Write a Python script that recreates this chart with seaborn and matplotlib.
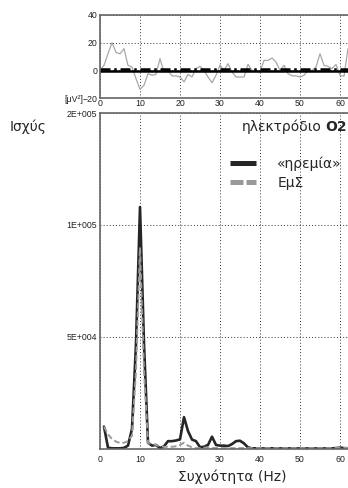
import numpy as np
import pandas as pd
import matplotlib
matplotlib.use("Agg")
import matplotlib.pyplot as plt
import seaborn as sns

# ======================================
# DATA
# ======================================
# top panel: difference curve, 0..62 Hz
diff_freq = list(range(0, 63))
diff_vals = [0, 3.6, 12, 20, 13, 12, 15.7, 3.6, 2.4, -6,
             -13.7, -10.8, -2.4, -3.6, -2.9, 8.4, -1.2, 0, -4, -4,
             -4.8, -8.4, -3, -4.8, 1.2, 2.9, 0, -4.8, -9, -3.6,
             3.8, 0, 4.8, -1.2, -4.8, -4.8, -4.8, 4.3, 0, -0.5,
             -1.2, 7.2, 7.2, 8.9, 6, 0, 3.6, -2.4, -4, -4,
             -4.8, -3.6, 0, 0, 2.4, 12, 3.6, 2.9, 1.2, 4.3,
             -3.6, -4.3, 15.7]
thr_solid = -0.7
thr_dashdot = 1.3
top_yticks = [-20, 0, 20, 40]

# bottom panel: power spectra, 1..62 Hz
freq = list(range(1, 63))
rest = [10000, 600, 300, 300, 300, 500, 1500, 9000, 47000, 108000,
        47000, 2800, 1500, 1800, 400, 1200, 3500, 3500, 3800, 4300,
        14200, 8000, 4200, 3500, 800, 1000, 1800, 5500, 1800, 1500,
        1500, 1300, 2200, 3500, 3700, 2500, 700, 300, 300, 250,
        250, 250, 300, 300, 250, 250, 250, 250, 250, 250,
        250, 250, 250, 250, 250, 250, 250, 300, 400, 600,
        400, 300]
ems = [10000, 6500, 4500, 3300, 2700, 2800, 3500, 6000, 35000, 90000,
       35000, 2700, 2200, 1800, 1200, 1000, 1000, 1000, 1200, 1800,
       2800, 1500, 800, 400, 400, 600, 700, 500, 400, 400,
       400, 400, 400, 400, 400, 400, 400, 400, 400, 400,
       400, 400, 400, 400, 400, 400, 400, 400, 400, 400,
       400, 400, 400, 400, 400, 400, 400, 400, 500, 600,
       500, 400]
bot_yticks = [0, 50000, 100000, 150000]
xticks = [0, 10, 20, 30, 40, 50, 60]
legend_labels = ["«ηρεμία»", "ΕμΣ"]

# ======================================
# STYLE
# ======================================
sns.set_style("white")
plt.rcParams["font.family"] = ["DejaVu Sans"]

W, H = 348, 488
fig = plt.figure(figsize=(W / 100, H / 100), dpi=100)


def box(l, t, r, b):
    return [l / W, 1 - b / H, (r - l) / W, (b - t) / H]


ax_top = fig.add_axes(box(100, 15, 350, 98))
ax_bot = fig.add_axes(box(100, 113, 350, 449))

grid_kw = dict(color="#333333", lw=0.7, linestyle=(0, (1, 2.2)))


def style_axis(ax):
    for s in ax.spines.values():
        s.set_color("#666666")
        s.set_linewidth(1.2)
    ax.set_xlim(0, 62.5)
    ax.set_xticks(xticks)
    ax.tick_params(length=0, pad=2, labelsize=6.3, labelcolor="#222222")
    for lab in ax.get_xticklabels() + ax.get_yticklabels():
        lab.set_family("Liberation Sans")
    ax.grid(True, **grid_kw)
    ax.set_xlabel("")
    ax.set_ylabel("")


# ======================================
# TOP PANEL
# ======================================
sns.lineplot(x=diff_freq, y=diff_vals, ax=ax_top, color="#a8a8a8", lw=0.9)
ax_top.axhline(thr_solid, color="black", lw=1.8)
ax_top.axhline(thr_dashdot, color="black", lw=1.8, linestyle=(0, (4, 1.5, 1, 1.5)))
ax_top.set_ylim(-20, 40)
ax_top.set_yticks(top_yticks)
style_axis(ax_top)
ax_top.tick_params(axis="x", pad=1)

# ======================================
# BOTTOM PANEL
# ======================================
sns.lineplot(x=freq, y=rest, ax=ax_bot, color="#262626", lw=1.9,
             label=legend_labels[0])
sns.lineplot(x=freq, y=ems, ax=ax_bot, color="#999999", lw=1.4,
             linestyle=(0, (3, 1.5)), label=legend_labels[1])
ax_bot.set_ylim(0, 150000)
ax_bot.set_yticks(bot_yticks)


def sci_fmt(v, pos):
    if v == 0:
        return ""
    m, e = f"{v:.0E}".split("E")
    return f"{m}E{int(e):+04d}"


ax_bot.yaxis.set_major_formatter(plt.FuncFormatter(sci_fmt))
style_axis(ax_bot)
ax_bot.tick_params(axis="x", pad=4)

leg = ax_bot.legend(loc="center left", bbox_to_anchor=(0.52, 0.821),
                    frameon=False, fontsize=10, handlelength=1.9,
                    handletextpad=1.5, labelspacing=0.35, borderpad=0,
                    borderaxespad=0)
for h in leg.legend_handles:
    h.set_linewidth(3.6)
    h.set_solid_capstyle("butt")
    h.set_dash_capstyle("butt")
leg.legend_handles[1].set_dashes((2.6, 0.6))

# ======================================
# TEXTS
# ======================================
fig.text(10 / W, 1 - 127 / H, "Ισχύς", fontsize=10, va="center")
fig.text(232 / W, 1 - 477 / H, "Συχνότητα (Hz)", fontsize=10,
         ha="center", va="center")
fig.text(83 / W, 1 - 99 / H, "[μV²]", fontsize=6.3, ha="right", va="center",
         family="Liberation Sans")

t2 = fig.text(347 / W, 1 - 127 / H, "O2", fontsize=10, weight="bold",
              ha="right", va="center")
fig.canvas.draw()
bb = t2.get_window_extent(fig.canvas.get_renderer())
fig.text((bb.x0 - 4) / W, 1 - 127 / H, "ηλεκτρόδιο", fontsize=10,
         ha="right", va="center")

fig.savefig("out.png", dpi=100)
